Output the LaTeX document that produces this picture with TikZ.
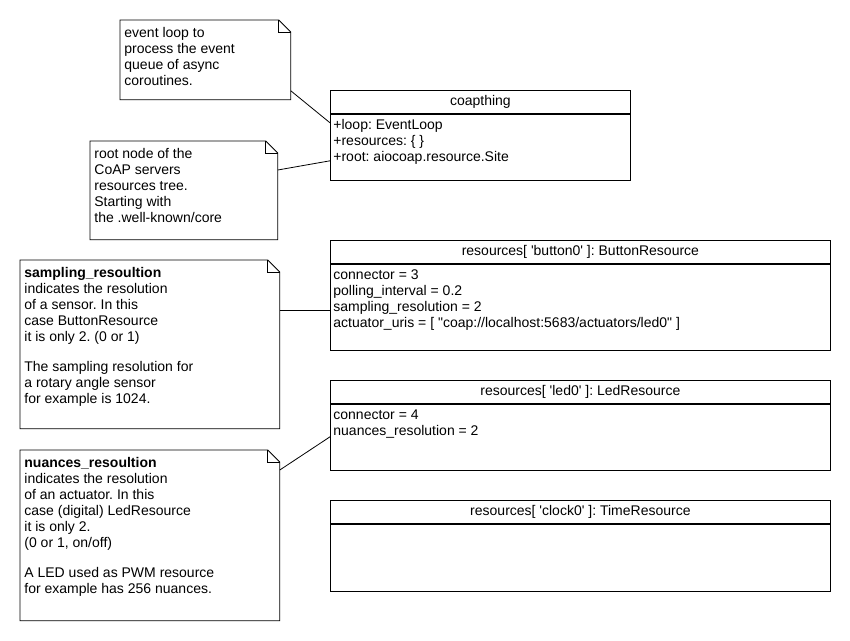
\documentclass[tikz,border=0pt]{standalone}
\usepackage{fontspec}
\newfontfamily\umlfamily{Liberation Sans}
\usetikzlibrary{positioning}
\newcommand\umlfont{\umlfamily\fontsize{14}{16}\selectfont\frenchspacing}
% note outline with folded corner
\newcommand\drawnote[1]{%
  \draw (#1.north west) -- ([xshift=-12pt]#1.north east) -- ([yshift=-12pt]#1.north east)
    -- (#1.south east) -- (#1.south west) -- cycle;
  \draw ([xshift=-12pt]#1.north east) |- ([yshift=-12pt]#1.north east);}
\begin{document}
\begin{tikzpicture}[x=1pt, y=-1pt,
                    line width=0.8pt,
                    every node/.style={font=\umlfont},
                    note/.style={anchor=north west, inner sep=0pt},
                    notetext/.style={anchor=north west, align=left, inner xsep=4pt, inner ysep=7pt,
                                     execute at begin node=\strut},
                    classhead/.style={draw, anchor=north west, minimum width=#1, minimum height=23pt, inner sep=0pt},
                    classbody/.style={draw, anchor=north, minimum width=#1, inner sep=0pt},
                    attrs/.style={anchor=north west, align=left, inner xsep=3pt, inner ysep=5.5pt,
                                  execute at begin node=\strut}]
      \useasboundingbox (0,0) rectangle (850,640);
      % notes
      \node[note, minimum width=170pt, minimum height=79pt] (evtnote) at (120,20) {};
      \node[note, minimum width=187pt, minimum height=98pt] (rootnote) at (90,141) {};
      \node[note, minimum width=259pt, minimum height=168pt] (samplenote) at (20,260) {};
      \node[note, minimum width=259pt, minimum height=170pt] (nuancenote) at (20,450) {};
      \drawnote{evtnote}
      \drawnote{rootnote}
      \drawnote{samplenote}
      \drawnote{nuancenote}
      \node[notetext] (evtnote text) at (evtnote.north west) {event loop to\\process the event\\queue of async\\coroutines.};
      \node[notetext] (rootnote text) at (rootnote.north west) {root node of the\\CoAP servers\\resources tree.\\Starting with\\the .well-known/core};
      \node[notetext] (samplenote text) at (samplenote.north west) {\textbf{sampling\_resoultion}\\indicates the resolution\\of a sensor. In this\\case ButtonResource\\it is only 2. (0 or 1)\\[14pt]The sampling resolution for\\a rotary angle sensor\\for example is 1024.};
      \node[notetext] (nuancenote text) at (nuancenote.north west) {\textbf{nuances\_resoultion}\\indicates the resolution\\of an actuator. In this\\case (digital) LedResource\\it is only 2.\\(0 or 1, on/off)\\[14pt]A LED used as PWM resource\\for example has 256 nuances.};
      % classes
      \node[classhead=300pt] (coapthing) at (330,90) {coapthing};
      \node[classbody=300pt, minimum height=66pt, below=0pt of coapthing] (coapthing body) {};
      \node[attrs] (coapthing attrs) at (coapthing body.north west) {+loop: EventLoop\\+resources: \{ \}\\+root: aiocoap.resource.Site};
      \node[classhead=500pt] (button) at (330,240) {resources[ 'button0' ]: ButtonResource};
      \node[classbody=500pt, minimum height=86pt, below=0pt of button] (button body) {};
      \node[attrs] (button attrs) at (button body.north west) {connector = 3\\polling\_interval = 0.2\\sampling\_resolution = 2\\actuator\_uris = [ "coap://localhost:5683/actuators/led0" ]};
      \node[classhead=500pt] (led) at (330,380) {resources[ 'led0' ]: LedResource};
      \node[classbody=500pt, minimum height=66pt, below=0pt of led] (led body) {};
      \node[attrs] (led attrs) at (led body.north west) {connector = 4\\nuances\_resolution = 2};
      \node[classhead=500pt] (clock) at (330,500) {resources[ 'clock0' ]: TimeResource};
      \node[classbody=500pt, minimum height=67pt, below=0pt of clock] (clock body) {};
      % note links
      \coordinate (samplelink) at ([yshift=-50pt]samplenote.north east);
      \draw ([yshift=9pt]evtnote.south east) -- ([yshift=-9pt]coapthing body.north west);
      \draw ([yshift=-29pt]rootnote.north east) -- ([yshift=-47pt]coapthing body.north west);
      \draw (samplelink) -- (samplelink -| button body.west);
      \draw ([yshift=-20pt]nuancenote.north east) -- ([yshift=-33pt]led body.north west);
    \end{tikzpicture}
\end{document}
